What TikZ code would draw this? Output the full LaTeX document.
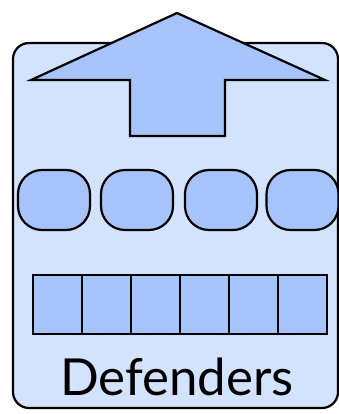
\documentclass[tikz,border=0pt]{standalone}
\usepackage{fontspec}
\setmainfont{Lato}
\usepackage{xcolor}
\usetikzlibrary{positioning}
\definecolor{paleblue}{RGB}{212,227,253}
\definecolor{midblue}{RGB}{167,195,252}
\tikzset{
  frame/.style={draw, line width=2.2pt, fill=paleblue, rounded corners=16pt},
  pill/.style={draw, line width=2.2pt, fill=midblue, rounded corners=24pt,
    minimum width=72pt, minimum height=60pt, inner sep=0pt},
  cell/.style={draw, line width=2pt, fill=midblue,
    minimum width=49pt, minimum height=59pt, inner sep=0pt}
}

\begin{document}
\begin{tikzpicture}[x=1pt, y=-1pt]
  \useasboundingbox (0,0) rectangle (339,414);

  % outer box
  \draw[frame] (13,43) rectangle (338,408);

  % up arrow
  \draw[line width=2.2pt, fill=midblue, line join=miter]
    (177,13) -- (325,80) -- (225,80) -- (225,136)
    -- (130,136) -- (130,80) -- (31,80) -- cycle;

  % row of pills
  \foreach \cx [count=\i] in {54,137,221,302.5}
    \node[pill] (pill\i) at (\cx,200) {};

  % strip of cells
  \foreach \i in {1,...,6}
    \node[cell] (cell\i) at ({8.5+49*\i},304.5) {};

  % label
  \node[font=\fontsize{51}{55}\selectfont] (label) at (177,377) {Defenders};
\end{tikzpicture}
\end{document}
